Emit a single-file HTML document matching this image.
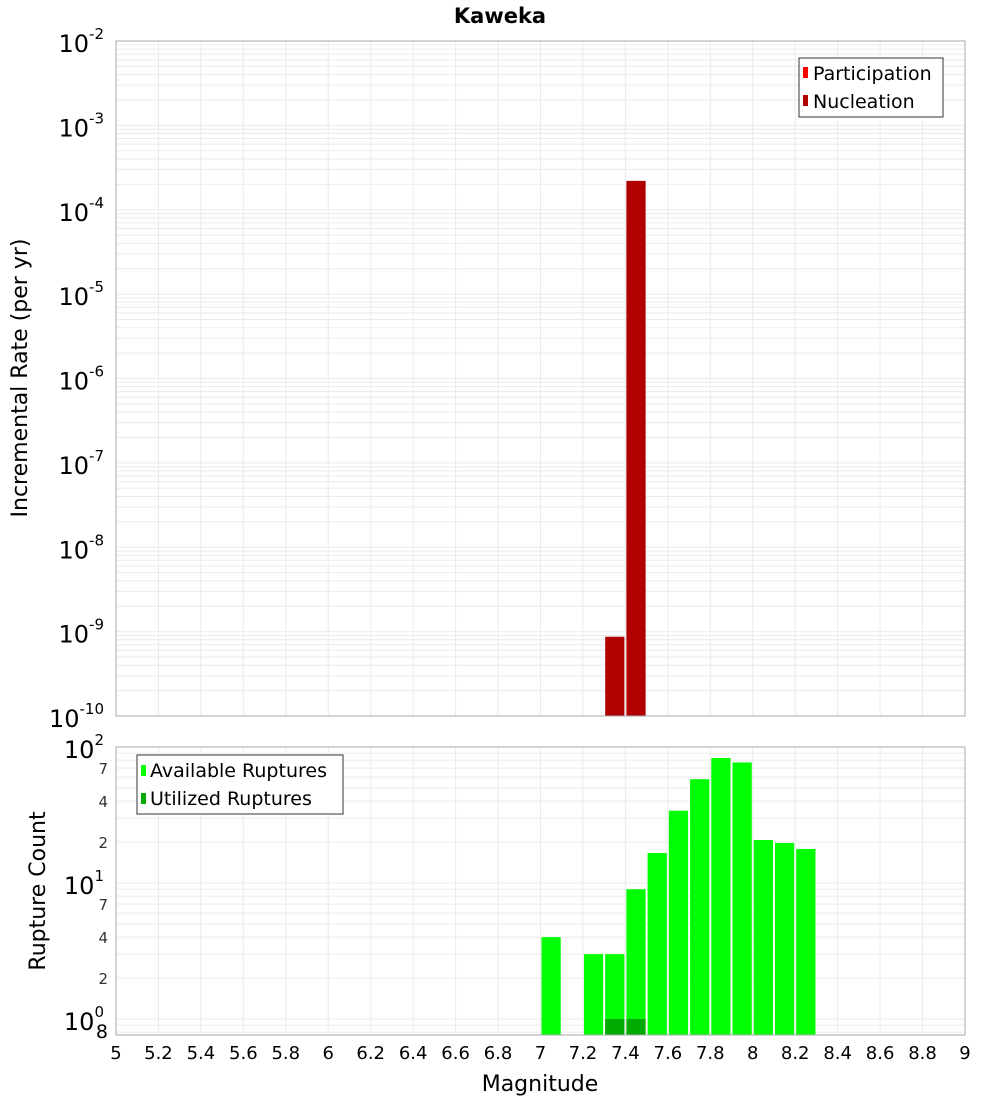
<!DOCTYPE html>
<html><head><meta charset="utf-8"><style>
body{margin:0;background:#fff;font-family:"Liberation Sans","DejaVu Sans",sans-serif}
</style></head><body>
<svg id="chart" width="1000" height="1100" xmlns="http://www.w3.org/2000/svg" font-family="DejaVu Sans, Liberation Sans, sans-serif">
<text x="500" y="23" text-anchor="middle" font-size="21" font-weight="bold">Kaweka</text>
<g id="gtop"></g><g id="gbot"></g>
<text transform="translate(27,378) rotate(-90)" text-anchor="middle" font-size="22">Incremental Rate (per yr)</text>
<text transform="translate(45,891) rotate(-90)" text-anchor="middle" font-size="22">Rupture Count</text>
<text x="540" y="1091" text-anchor="middle" font-size="22">Magnitude</text>
<g>
<rect x="799" y="58" width="144" height="59" fill="#fff" stroke="#333"/>
<rect x="803" y="67" width="5" height="11" fill="#ff0000"/>
<text x="813" y="80" font-size="19">Participation</text>
<rect x="803" y="95" width="5" height="11" fill="#b00000"/>
<text x="813" y="108" font-size="19">Nucleation</text>
</g>
<g>
<rect x="137" y="755" width="206" height="59" fill="#fff" stroke="#333"/>
<rect x="141" y="765" width="5" height="11" fill="#00ff00"/>
<text x="150" y="777" font-size="19">Available Ruptures</text>
<rect x="141" y="793" width="5" height="11" fill="#00aa00"/>
<text x="150" y="805" font-size="19">Utilized Ruptures</text>
</g>
</svg>
<script>
const topMags=[7.3,7.4];
const topRates=[8.7e-10,2.2e-4];
const botMags=[7.0,7.2,7.3,7.4,7.5,7.6,7.7,7.8,7.9,8.0,8.1,8.2];
const availCounts=[4,3,3,9,16.6,34,58,83,77,20.7,19.7,17.8];
const utilMags=[7.3,7.4];
const utilCounts=[1,1];
const xTicks=[5,5.2,5.4,5.6,5.8,6,6.2,6.4,6.6,6.8,7,7.2,7.4,7.6,7.8,8,8.2,8.4,8.6,8.8,9];
const NS='http://www.w3.org/2000/svg';
const L=116,R=965;
const xs=m=>L+(m-5)/4*(R-L);
const yT=v=>41+(-2-Math.log10(v))*84.375;
const yB=v=>747+(2-Math.log10(v))*136;
function mk(p,t,a){const e=document.createElementNS(NS,t);for(const k in a)e.setAttribute(k,a[k]);p.appendChild(e);return e;}
const gTop=document.getElementById('gtop'),gBot=document.getElementById('gbot');
function grid(g,y0,y1,yf,dmin,dmax){
 for(let m=5;m<=9.001;m+=0.2){const l=mk(g,'line',{x1:xs(m),x2:xs(m),y1:y0,y2:y1,stroke:'#ebebeb'});
 
 }
 for(let d=dmin;d<dmax;d++)for(let k=1;k<10;k++){const yy=yf(k*Math.pow(10,d));if(yy<y0||yy>y1)continue;
 const l=mk(g,'line',{x1:L,x2:R,y1:yy,y2:yy,stroke:'#ebebeb'});
 
 }
}
grid(gTop,41,716,yT,-10,-2);
grid(gBot,747,1035,yB,-1,2);
topMags.forEach((m,i)=>{const r=mk(gTop,'rect',{x:xs(m)+1,y:yT(topRates[i]),width:xs(m+0.1)-xs(m)-2,height:716-yT(topRates[i]),fill:'#b00000'});

});
availCounts.forEach((c,i)=>{const m=botMags[i];const r=mk(gBot,'rect',{x:xs(m)+1,y:yB(c),width:xs(m+0.1)-xs(m)-2,height:1035-yB(c),fill:'#00ff00'});

});
utilCounts.forEach((c,i)=>{const m=utilMags[i];const r=mk(gBot,'rect',{x:xs(m)+1,y:yB(c),width:xs(m+0.1)-xs(m)-2,height:1035-yB(c),fill:'#00aa00'});

});
[[gTop,41,716],[gBot,747,1035]].forEach(([g,a,b])=>{const f=mk(g,'rect',{x:L,y:a,width:R-L,height:b-a,fill:'none',stroke:'#aaa'});

});
for(let d=-10;d<=-2;d++){const yy=yT(Math.pow(10,d));const t=mk(gTop,'text',{x:104,y:yy+11,'text-anchor':'end','font-size':24});


t.textContent='10';const s=mk(t,'tspan',{dy:-13,'font-size':15});s.textContent=String(d);}
for(let d=0;d<=2;d++){const yy=yB(Math.pow(10,d));const t=mk(gBot,'text',{x:104,y:yy+11,'text-anchor':'end','font-size':24});


t.textContent='10';const s=mk(t,'tspan',{dy:-13,'font-size':15});s.textContent=String(d);}
[[0.8,'8'],[2,'2'],[4,'4'],[7,'7'],[20,'2'],[40,'4'],[70,'7']].forEach(([v,s])=>{const t=mk(gBot,'text',{x:108,y:yB(v)+6,'text-anchor':'end','font-size':v<1?19:15,fill:v<1?'#000':'#333'});


t.textContent=s;});
xTicks.forEach(m=>{const t=mk(gBot,'text',{x:xs(m),y:1059,'text-anchor':'middle','font-size':18});


t.textContent=String(m);});
</script>
</body></html>
